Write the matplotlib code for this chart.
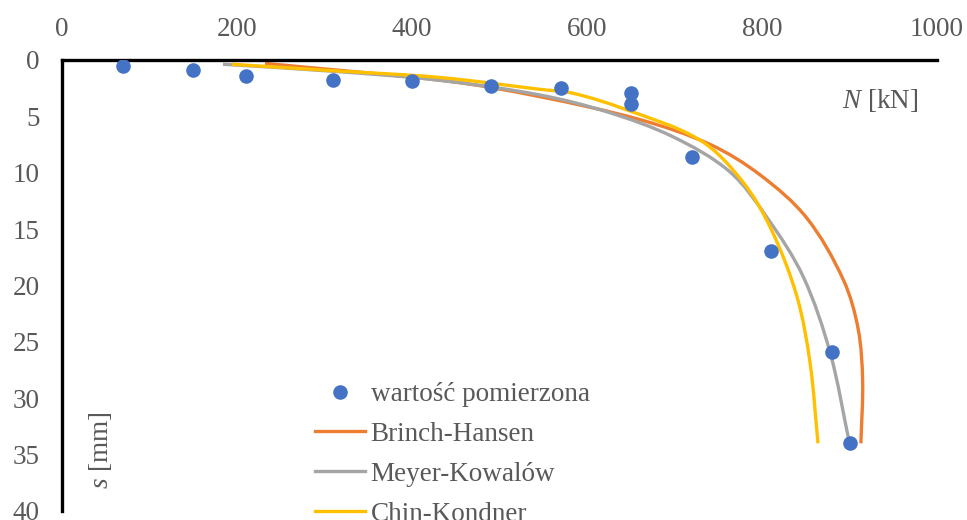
import numpy as np
import matplotlib
matplotlib.use("Agg")
import matplotlib.pyplot as plt
from matplotlib.path import Path
from matplotlib.patches import PathPatch
from matplotlib.lines import Line2D

plt.rcParams["font.family"] = ["Liberation Serif", "DejaVu Serif"]
plt.rcParams["mathtext.fontset"] = "custom"
plt.rcParams["mathtext.it"] = "Liberation Serif:italic"
plt.rcParams["mathtext.rm"] = "Liberation Serif"

# measured load-settlement points
measured_N = [70, 150, 210, 310, 400, 490, 570, 650, 650, 720, 810, 880, 900]
measured_s = [0.5, 0.9, 1.4, 1.8, 1.9, 2.3, 2.5, 2.9, 3.9, 8.6, 16.9, 25.9, 34.0]

# Brinch-Hansen curve
bh_N = [232, 443, 546, 661, 741, 798, 851, 893, 910, 915, 913]
bh_s = [0.3, 1.9, 3.25, 5.3, 7.5, 10.2, 14.0, 19.5, 23.9, 28.5, 34.0]

# Meyer-Kowalów curve
mk_N = [184, 310, 432, 546, 623, 698, 763, 806, 847, 878, 900]
mk_s = [0.38, 1.0, 1.8, 3.1, 4.6, 6.8, 9.9, 14.0, 19.2, 26.0, 34.0]

# Chin-Kondner curve
ck_N = [194, 310, 432, 546, 584, 641, 729, 778, 811, 840, 855, 864]
ck_s = [0.38, 0.95, 1.55, 2.6, 2.95, 4.3, 7.1, 10.8, 15.1, 21.0, 26.9, 34.0]

x_ticks = [0, 200, 400, 600, 800, 1000]
y_ticks = [0, 5, 10, 15, 20, 25, 30, 35, 40]

BLUE = "#4472C4"
ORANGE = "#ED7D31"
GRAY = "#A5A5A5"
YELLOW = "#FFC000"
TXT = "#595959"
FS = 19.5

X_RANGE = (0, 1000)
Y_RANGE = (40, 0)
AX_RECT = [62 / 967, 1 - 511 / 520, (937 - 62) / 967, (511 - 60) / 520]


def smooth_path(xs, ys, sx, sy):
    """Smooth cubic Bezier path through the points.

    Tangents are taken from the neighbouring points in an isotropic
    (screen-like) frame, and each handle is a third of its segment length,
    so unevenly spaced points do not produce kinks.
    """
    p = np.column_stack([np.asarray(xs, float) * sx, np.asarray(ys, float) * sy])
    n = len(p)
    tang = np.zeros_like(p)
    for i in range(n):
        a = p[max(i - 1, 0)]
        b = p[min(i + 1, n - 1)]
        d = b - a
        tang[i] = d / np.hypot(*d)
    verts = [p[0]]
    codes = [Path.MOVETO]
    for i in range(n - 1):
        seg = np.hypot(*(p[i + 1] - p[i]))
        c1 = p[i] + tang[i] * seg / 3.0
        c2 = p[i + 1] - tang[i + 1] * seg / 3.0
        verts += [c1, c2, p[i + 1]]
        codes += [Path.CURVE4] * 3
    verts = np.array(verts)
    verts[:, 0] /= sx
    verts[:, 1] /= sy
    return Path(verts, codes)


fig = plt.figure(figsize=(9.67, 5.2), dpi=100)
ax = fig.add_axes(AX_RECT)
ax.set_xlim(*X_RANGE)
ax.set_ylim(*Y_RANGE)

# pixels per data unit, used only to shape the spline handles
sx = AX_RECT[2] * 967 / (X_RANGE[1] - X_RANGE[0])
sy = AX_RECT[3] * 520 / abs(Y_RANGE[1] - Y_RANGE[0])

lw = 2.4
for xs, ys, col in [(bh_N, bh_s, ORANGE), (mk_N, mk_s, GRAY), (ck_N, ck_s, YELLOW)]:
    ax.add_patch(PathPatch(smooth_path(xs, ys, sx, sy), fill=False, edgecolor=col,
                           lw=lw, capstyle="butt", zorder=2))

ax.plot(measured_N, measured_s, "o", color=BLUE, ms=10.5, mec="none", zorder=3)

ax.xaxis.tick_top()
ax.set_xticks(x_ticks)
ax.set_yticks(y_ticks)
ax.tick_params(axis="x", length=0, pad=13, labelsize=FS, labelcolor=TXT)
ax.tick_params(axis="y", length=0, pad=16, labelsize=FS, labelcolor=TXT)
for side in ["bottom", "right"]:
    ax.spines[side].set_visible(False)
for side in ["top", "left"]:
    ax.spines[side].set_linewidth(2.4)
    ax.spines[side].set_color("black")

fig.text(880 / 967, 1 - 100 / 520, "$N$ [kN]", fontsize=FS, color=TXT,
         ha="center", va="center")
fig.text(100 / 967, 1 - 450 / 520, "$s$ [mm]", fontsize=FS, color=TXT,
         ha="center", va="center", rotation=90)

handles = [
    Line2D([], [], ls="none", marker="o", color=BLUE, ms=10.5, mec="none"),
    Line2D([], [], color=ORANGE, lw=lw),
    Line2D([], [], color=GRAY, lw=lw),
    Line2D([], [], color=YELLOW, lw=lw),
]
labels = ["wartość pomierzona", "Brinch-Hansen", "Meyer-Kowalów", "Chin-Kondner"]
fig.legend(handles, labels, loc="upper left", bbox_to_anchor=(315 / 967, 1 - 382 / 520),
           frameon=False, fontsize=FS, labelcolor=TXT, handlelength=1.85,
           handletextpad=0.2, labelspacing=0.55, borderpad=0, borderaxespad=0)

fig.savefig("out.png", dpi=100)
